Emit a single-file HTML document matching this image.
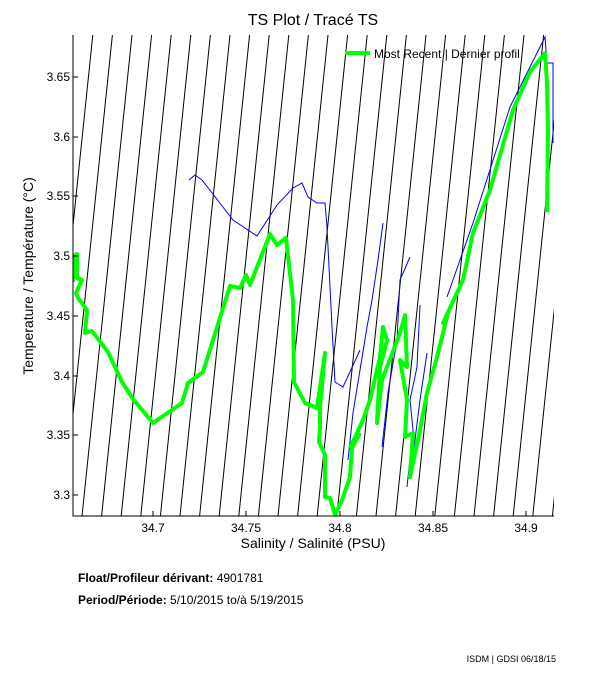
<!DOCTYPE html>
<html><head><meta charset="utf-8"><style>
html,body{margin:0;padding:0;background:#fff;}
svg{display:block;font-family:"Liberation Sans",Arial,sans-serif;}
</style></head><body>
<svg width="611" height="675" viewBox="0 0 611 675" xmlns="http://www.w3.org/2000/svg">
<defs><clipPath id="c"><rect x="73" y="35" width="481" height="481"/></clipPath></defs>
<text x="313" y="25" font-size="16" text-anchor="middle">TS Plot / Tracé TS</text>
<g clip-path="url(#c)">
<path stroke="#000" stroke-width="1" fill="none" d="M3.6 516l50 -481M23.2 516l50 -481M42.8 516l50 -481M62.4 516l50 -481M82 516l50 -481M101.6 516l50 -481M121.2 516l50 -481M140.8 516l50 -481M160.4 516l50 -481M180 516l50 -481M199.6 516l50 -481M219.2 516l50 -481M238.8 516l50 -481M258.4 516l50 -481M278 516l50 -481M297.6 516l50 -481M317.2 516l50 -481M336.8 516l50 -481M356.4 516l50 -481M376 516l50 -481M395.6 516l50 -481M415.2 516l50 -481M434.8 516l50 -481M454.4 516l50 -481M474 516l50 -481M493.6 516l50 -481M513.2 516l50 -481M532.8 516l50 -481M552.4 516l50 -481"/>
</g>
<g clip-path="url(#c)" fill="none">
<polyline stroke="#0000ff" stroke-width="1" points="189,180 195,175 202,180 233,220 257,236 277,205 293,188 302,183 308,197 317,203 325,203 327,227 332,327 335,382 343,387 360,350"/>
<polyline stroke="#0000ff" stroke-width="1" points="383,223 378,260 372,300 367,327 360,370 353,413 348,460"/>
<polyline stroke="#0000ff" stroke-width="1" points="410,257 400,280 397,340 388,393 382,447"/>
<polyline stroke="#0000ff" stroke-width="1" points="420,305 417,367 410,400 413,430 407,487"/>
<polyline stroke="#0000ff" stroke-width="1" points="427,353 420,400 415,440 410,470"/>
<polyline stroke="#0000ff" stroke-width="1" points="447,297 473,223 510,107 545,37 547,63 553,63 553,143"/>
<polyline stroke="#00ff00" stroke-width="4" stroke-linejoin="round" points="73,282 75,255 77,254 77,278 82,280 76,293 78,298 87,310 85,333 92,331 108,352 122,382 133,399 153,423 182,403 188,383 203,372 230,286 240,288 246,275 250,285 270,234 277,245 286,238 293,300 294,382 305,403 317,408 325,353 320,408 320,427 319,442 325,455 325,497 330,498 335,515 342,500 350,477 352,448 360,433"/>
<polyline stroke="#00ff00" stroke-width="4" stroke-linejoin="round" points="350,448 363,420 370,400 380,357 383,327 387,340 380,367 377,423 382,380 400,333 405,315 407,367 400,360 407,400 405,437 413,433 410,477 420,430 427,393 437,357 447,317 443,323 463,280 473,233 490,190 513,110 530,72 545,53 547,83 548,130 547,212"/>
</g>
<line x1="345" y1="53" x2="370" y2="53" stroke="#00ff00" stroke-width="4"/>
<text x="374" y="58" font-size="12">Most Recent | Dernier profil</text>
<g stroke="#000" stroke-width="1" fill="none">
<line x1="73" y1="35" x2="73" y2="516.5"/>
<line x1="72.5" y1="516" x2="554" y2="516"/>
<line x1="73" y1="77" x2="78" y2="77"/><line x1="73" y1="137" x2="78" y2="137"/><line x1="73" y1="196" x2="78" y2="196"/><line x1="73" y1="256" x2="78" y2="256"/><line x1="73" y1="316" x2="78" y2="316"/><line x1="73" y1="376" x2="78" y2="376"/><line x1="73" y1="435" x2="78" y2="435"/><line x1="73" y1="495" x2="78" y2="495"/>
<line x1="153" y1="516" x2="153" y2="511"/><line x1="246" y1="516" x2="246" y2="511"/><line x1="340" y1="516" x2="340" y2="511"/><line x1="433" y1="516" x2="433" y2="511"/><line x1="526" y1="516" x2="526" y2="511"/>
</g>
<g font-size="12" text-anchor="end">
<text x="70" y="81">3.65</text><text x="70" y="141">3.6</text><text x="70" y="200">3.55</text><text x="70" y="260">3.5</text><text x="70" y="320">3.45</text><text x="70" y="380">3.4</text><text x="70" y="439">3.35</text><text x="70" y="499">3.3</text>
</g>
<g font-size="12" text-anchor="middle">
<text x="153" y="532">34.7</text><text x="246" y="532">34.75</text><text x="340" y="532">34.8</text><text x="433" y="532">34.85</text><text x="526" y="532">34.9</text>
</g>
<text x="313" y="548" font-size="14" text-anchor="middle">Salinity / Salinité (PSU)</text>
<text transform="translate(33,276) rotate(-90)" font-size="14" text-anchor="middle">Temperature / Température (°C)</text>
<text x="78" y="582" font-size="12"><tspan font-weight="bold">Float/Profileur dérivant:</tspan> 4901781</text>
<text x="78" y="604" font-size="12"><tspan font-weight="bold">Period/Période:</tspan> 5/10/2015  to/à  5/19/2015</text>
<text x="556" y="662" font-size="9" text-anchor="end">ISDM | GDSI  06/18/15</text>
</svg>
</body></html>
